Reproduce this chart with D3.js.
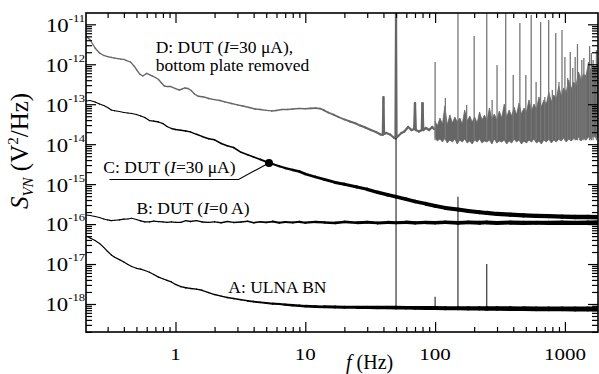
<!DOCTYPE html>
<html>
<head>
<meta charset="utf-8">
<script src="https://cdn.jsdelivr.net/npm/d3@7/dist/d3.min.js"></script>
<style>
html,body{margin:0;padding:0;background:#fff;}
svg{display:block;}
text{font-family:"Liberation Serif","Times New Roman",Times,serif;fill:#000;}
</style>
</head>
<body>
<svg id="chart" width="599" height="374"></svg>
<script>
// ---------- DATA ----------
// common frequency grid (Hz) for traces A, B, C
const freq = [0.205,0.22,0.24,0.26,0.28,0.30,0.32,0.34,0.37,0.40,0.43,0.46,0.50,0.54,0.58,0.63,0.68,0.74,0.80,0.86,
  0.93,1.0,1.1,1.2,1.3,1.45,1.6,1.8,2.0,2.25,2.5,2.8,3.2,3.6,4.0,4.5,5.0,5.6,6.3,7.0,
  8.0,9.0,10,12,14,17,20,25,30,36,43,50,60,70,85,100,120,150,180,220,
  250,300,380,480,600,750,950,1200,1500,1800];

// C: DUT (I=30 uA)
const seriesC = [1.20e-13,1.24e-13,1.14e-13,1.01e-13,9.29e-14,8.28e-14,7.17e-14,6.85e-14,6.57e-14,6.21e-14,
  6.03e-14,5.86e-14,5.53e-14,5.07e-14,4.65e-14,3.91e-14,3.80e-14,3.59e-14,3.29e-14,2.77e-14,
  2.47e-14,2.33e-14,2.23e-14,2.14e-14,2.04e-14,1.77e-14,1.56e-14,1.37e-14,1.29e-14,1.04e-14,
  9.11e-15,8.26e-15,6.26e-15,5.42e-15,4.78e-15,4.14e-15,3.62e-15,3.19e-15,2.80e-15,2.53e-15,
  2.26e-15,2.07e-15,1.79e-15,1.51e-15,1.31e-15,1.10e-15,9.97e-16,8.48e-16,7.43e-16,6.25e-16,
  5.41e-16,4.85e-16,4.18e-16,3.68e-16,3.22e-16,2.84e-16,2.53e-16,2.32e-16,2.13e-16,1.97e-16,
  1.90e-16,1.79e-16,1.72e-16,1.66e-16,1.61e-16,1.58e-16,1.54e-16,1.51e-16,1.50e-16,1.48e-16];

// B: DUT (I=0 A)
const seriesB = [1.69e-16,1.64e-16,1.55e-16,1.46e-16,1.34e-16,1.27e-16,1.22e-16,1.25e-16,1.28e-16,1.33e-16,
  1.34e-16,1.40e-16,1.30e-16,1.20e-16,1.13e-16,1.13e-16,1.18e-16,1.16e-16,1.13e-16,1.11e-16,
  1.14e-16,1.10e-16,1.11e-16,1.22e-16,1.16e-16,1.22e-16,1.13e-16,1.10e-16,1.14e-16,1.08e-16,
  1.16e-16,1.10e-16,1.13e-16,1.18e-16,1.08e-16,1.14e-16,1.10e-16,1.16e-16,1.08e-16,1.13e-16,
  1.10e-16,1.14e-16,1.08e-16,1.13e-16,1.10e-16,1.07e-16,1.13e-16,1.08e-16,1.11e-16,1.07e-16,
  1.10e-16,1.08e-16,1.11e-16,1.07e-16,1.10e-16,1.08e-16,1.11e-16,1.07e-16,1.10e-16,1.08e-16,
  1.10e-16,1.07e-16,1.09e-16,1.07e-16,1.08e-16,1.07e-16,1.08e-16,1.07e-16,1.08e-16,1.10e-16];

// A: ULNA BN
const seriesA = [5.04e-17,4.49e-17,3.89e-17,3.27e-17,2.60e-17,2.06e-17,1.69e-17,1.48e-17,1.29e-17,1.13e-17,
  9.75e-18,8.69e-18,7.83e-18,7.44e-18,6.90e-18,6.22e-18,5.48e-18,4.69e-18,4.28e-18,3.92e-18,
  3.56e-18,3.08e-18,2.71e-18,2.55e-18,2.45e-18,2.35e-18,2.20e-18,1.93e-18,1.72e-18,1.57e-18,
  1.45e-18,1.37e-18,1.28e-18,1.20e-18,1.14e-18,1.10e-18,1.06e-18,1.02e-18,1.00e-18,9.62e-19,
  9.29e-19,9.03e-19,8.82e-19,8.62e-19,8.52e-19,8.42e-19,8.32e-19,8.28e-19,8.25e-19,8.18e-19,
  8.15e-19,8.10e-19,8.05e-19,8.00e-19,7.95e-19,7.90e-19,7.85e-19,7.81e-19,7.78e-19,7.75e-19,
  7.72e-19,7.70e-19,7.66e-19,7.62e-19,7.58e-19,7.55e-19,7.52e-19,7.50e-19,7.48e-19,7.45e-19];

// mains-line spikes seen as thin black lines (A trace)
const aSpikeF    = [50, 100, 150, 250];
const aSpikeBase = [8.10e-19, 7.90e-19, 7.81e-19, 7.72e-19];
const aSpikePeak = [1.43e-14, 1.52e-18, 4.8e-16, 1.0e-17];

// D: DUT (I=30 uA), bottom plate removed — low-frequency part
const dFreq = [0.205,0.22,0.24,0.26,0.28,0.30,0.32,0.34,0.36,0.38,0.40,0.42,0.45,0.48,0.50,0.53,0.56,0.60,0.63,0.66,
  0.70,0.74,0.78,0.82,0.87,0.92,1.0,1.07,1.12,1.18,1.25,1.32,1.4,1.5,1.65,1.8,2.0,2.2,2.4,2.7,
  3.0,3.3,3.7,4.1,4.5,5.0,5.5,6.0,6.6,7.3,8.0,9.0,10,11,12,13,14,15,16.5,18,
  20,22,24,26.5,29,32,35,38,39.5,40,40.5,42,45,48,49.5,50,50.5,52,55,58,
  62,66,69,70,71,75,79,80,81,85,90,95,98];
const dPsd = [5.1e-12,4.05e-12,2.55e-12,1.91e-12,1.66e-12,1.56e-12,1.48e-12,1.43e-12,1.39e-12,1.35e-12,
  1.32e-12,1.24e-12,1.14e-12,9.0e-13,7.4e-13,5.7e-13,5.1e-13,5.9e-13,5.5e-13,5.1e-13,
  4.67e-13,4.16e-13,3.40e-13,2.86e-13,2.77e-13,2.77e-13,2.47e-13,2.27e-13,2.40e-13,2.55e-13,
  2.47e-13,2.20e-13,1.80e-13,1.58e-13,1.52e-13,1.39e-13,1.30e-13,1.24e-13,1.14e-13,1.04e-13,
  9.6e-14,9.0e-14,8.3e-14,7.6e-14,7.4e-14,7.0e-14,6.8e-14,7.0e-14,7.4e-14,7.4e-14,
  7.6e-14,7.8e-14,7.7e-14,7.9e-14,8.0e-14,7.8e-14,7.0e-14,6.2e-14,5.5e-14,4.79e-14,
  4.15e-14,3.7e-14,3.39e-14,2.93e-14,2.61e-14,2.26e-14,2.02e-14,1.75e-14,1.70e-14,1.52e-13,
  1.80e-14,1.91e-14,1.75e-14,1.47e-14,1.39e-14,1.9e-11,1.47e-14,1.60e-14,1.91e-14,2.07e-14,
  2.69e-14,2.26e-14,2.40e-14,1.07e-13,2.26e-14,2.07e-14,2.26e-14,1.07e-13,2.26e-14,2.54e-14,
  2.26e-14,2.69e-14,2.4e-14];

// D — dense high-frequency band (lower / upper envelope)
const dBandF = [100,104,109,114,119,124,130,136,142,148,155,162,169,177,185,193,202,211,220,230,
  240,251,262,274,286,299,312,326,341,356,372,389,406,424,443,463,484,506,529,553,
  578,604,631,659,689,720,752,786,821,858,897,937,979,1023,1069,1117,1167,1220,1275,1332,
  1392,1455,1520,1588,1660,1735,1800];
const dBandHi = [3.80e-14,2.85e-14,4.52e-14,3.20e-14,9.03e-14,3.02e-14,5.37e-14,3.39e-14,4.79e-14,3.59e-14,
  4.52e-14,3.20e-14,7.17e-14,3.80e-14,5.07e-14,3.59e-14,4.79e-14,3.39e-14,6.39e-14,4.03e-14,
  5.37e-14,3.80e-14,8.04e-14,4.27e-14,5.69e-14,4.03e-14,6.77e-14,4.52e-14,1.01e-13,4.79e-14,
  7.17e-14,5.07e-14,8.52e-14,5.37e-14,1.07e-13,5.69e-14,8.04e-14,6.39e-14,1.28e-13,6.77e-14,
  1.01e-13,7.59e-14,1.52e-13,8.52e-14,1.28e-13,1.01e-13,2.02e-13,1.14e-13,1.70e-13,1.35e-13,
  2.86e-13,1.61e-13,2.55e-13,2.02e-13,4.04e-13,2.40e-13,3.60e-13,3.03e-13,6.40e-13,4.04e-13,
  5.71e-13,5.08e-13,1.139e-12,6.40e-13,9.05e-13,8.06e-13,7.19e-13];
const dBandLo = [1.51e-14,1.20e-14,1.35e-14,1.13e-14,1.43e-14,1.07e-14,1.27e-14,1.13e-14,1.35e-14,1.01e-14,
  1.27e-14,1.13e-14,1.35e-14,1.07e-14,1.20e-14,1.01e-14,1.27e-14,1.13e-14,1.35e-14,1.07e-14,
  1.20e-14,1.13e-14,1.27e-14,1.01e-14,1.35e-14,1.07e-14,1.20e-14,1.13e-14,1.27e-14,1.01e-14,
  1.20e-14,1.07e-14,1.35e-14,1.13e-14,1.27e-14,1.01e-14,1.20e-14,1.07e-14,1.27e-14,1.13e-14,
  1.35e-14,1.07e-14,1.20e-14,1.01e-14,1.27e-14,1.13e-14,1.35e-14,1.07e-14,1.27e-14,1.13e-14,
  1.35e-14,1.20e-14,1.43e-14,1.13e-14,1.35e-14,1.20e-14,1.43e-14,1.27e-14,1.51e-14,1.20e-14,
  1.43e-14,1.27e-14,1.51e-14,1.35e-14,1.60e-14,1.43e-14,1.51e-14];

// D — spectral lines above the band
const dSpikeF = [100,120,150,175,200,250,275,300,350,400,450,500,550,600,650,700,750,800,850,900,
  950,1000,1050,1100,1150,1200,1250,1300,1350,1400,1450,1550,1600,1650,1750];
const dSpikePeak = [1.14e-12,1.43e-13,1.9e-11,9.6e-14,5.1e-12,1.9e-11,1.28e-13,9.6e-13,1.9e-11,5.4e-13,
  1.08e-11,5.4e-13,1.71e-11,3.6e-13,1.14e-11,1.52e-13,1.28e-11,2.27e-13,6.05e-12,3.6e-13,
  7.19e-12,1.52e-12,4.53e-13,2.03e-12,8.06e-13,1.52e-12,3.21e-12,5.39e-13,1.28e-12,1.43e-12,
  5.39e-13,2.86e-12,1.91e-12,1.28e-12,2.27e-12];
const dSpikeBase = 1.25e-14;

// marker on trace C used by the C label
const cMarkerF = 5.25, cMarkerS = 3.4e-15;

// axis ticks and labels
const xMajor = [1, 10, 100, 1000];
const xTickLabels = ["1", "10", "100", "1000"];
const yExponents = [-11, -12, -13, -14, -15, -16, -17, -18];

// ---------- DRAWING ----------
const W = 599, H = 374;
const L = 86, R = 598, T = 13, B = 332;
const svg = d3.select("#chart");
svg.append("rect").attr("width", W).attr("height", H).attr("fill", "#fff");

const x = d3.scaleLog().domain([0.2044, 1799]).range([L, R]);
const y = d3.scaleLog().domain([1.99e-19, 1.92e-11]).range([B, T]);

svg.append("defs").append("clipPath").attr("id", "clip")
  .append("rect").attr("x", L).attr("y", T).attr("width", R - L).attr("height", B - T);
const plot = svg.append("g").attr("clip-path", "url(#clip)");

function varLine(g, fs, ss, color, wScale) {
  for (let i = 0; i < fs.length - 1; i++) {
    g.append("line")
      .attr("x1", x(fs[i])).attr("y1", y(ss[i]))
      .attr("x2", x(fs[i + 1])).attr("y2", y(ss[i + 1]))
      .attr("stroke", color)
      .attr("stroke-width", wScale(Math.sqrt(fs[i] * fs[i + 1])))
      .attr("stroke-linecap", "round");
  }
}

const grey = "#666";
// D band
const area = d3.area()
  .x((d, i) => x(dBandF[i]))
  .y0((d, i) => y(dBandLo[i]))
  .y1((d, i) => y(dBandHi[i]));
plot.append("path").datum(dBandF).attr("d", area)
  .attr("fill", grey).attr("stroke", grey).attr("stroke-width", 0.8);
// D low-frequency trace
const wD = d3.scaleLog().domain([0.2, 5, 30, 100]).range([1.3, 1.4, 2.0, 2.4]).clamp(true);
varLine(plot, dFreq, dPsd, grey, wD);
// D spectral lines
dSpikeF.forEach((f, i) => {
  plot.append("line").attr("x1", x(f)).attr("x2", x(f))
    .attr("y1", y(dSpikeBase)).attr("y2", y(dSpikePeak[i]))
    .attr("stroke", "#777").attr("stroke-width", 1.3);
});

// A spikes (thin black)
aSpikeF.forEach((f, i) => {
  plot.append("line").attr("x1", x(f)).attr("x2", x(f))
    .attr("y1", y(aSpikeBase[i])).attr("y2", y(aSpikePeak[i]))
    .attr("stroke", "#222").attr("stroke-width", 1.1);
});

const wC = d3.scaleLog().domain([0.2, 3, 10, 50, 300, 1800]).range([1.1, 1.5, 2.6, 3.6, 4.2, 4.5]).clamp(true);
const wB = d3.scaleLog().domain([0.2, 3, 10, 50, 300, 1800]).range([1.1, 1.4, 2.2, 3.2, 4.0, 4.5]).clamp(true);
const wA = d3.scaleLog().domain([0.2, 3, 10, 50, 300, 1800]).range([1.1, 1.5, 2.6, 3.6, 4.5, 5.0]).clamp(true);
varLine(plot, freq, seriesC, "#000", wC);
varLine(plot, freq, seriesB, "#000", wB);
varLine(plot, freq, seriesA, "#000", wA);

// ---------- annotations ----------
// each label: anchor in data coordinates, font size, horizontal stretch
const notes = [
  { f: 0.704, s: 1.91e-12, size: 16.5, sx: 1.06, parts: [["D: DUT (", 0], ["I", 1], ["=30 \u03bcA),", 0]] },
  { f: 0.704, s: 6.6e-13,  size: 16.5, sx: 1.06, parts: [["bottom plate removed", 0]] },
  { f: 0.278, s: 1.87e-15, size: 17.5, sx: 1, parts: [["C: DUT (", 0], ["I", 1], ["=30 \u03bcA)", 0]] },
  { f: 0.5,   s: 1.74e-16, size: 17.5, sx: 1, parts: [["B: DUT (", 0], ["I", 1], ["=0 A)", 0]] },
  { f: 2.55,  s: 1.85e-18, size: 17.5, sx: 1, parts: [["A: ULNA BN", 0]] }
];
notes.forEach(n => {
  const t = svg.append("text")
    .attr("transform", `translate(${x(n.f)},${y(n.s)}) scale(${n.sx},1)`)
    .attr("font-size", n.size);
  n.parts.forEach(p => t.append("tspan").attr("font-style", p[1] ? "italic" : "normal").text(p[0]));
});
const leader = { f0: 0.31, f1: 3.06, s: 1.31e-15 };
svg.append("path")
  .attr("d", d3.line()([[x(leader.f0), y(leader.s)], [x(leader.f1), y(leader.s)], [x(cMarkerF), y(cMarkerS)]]))
  .attr("fill", "none").attr("stroke", "#000").attr("stroke-width", 1.1);
svg.append("circle").attr("cx", x(cMarkerF)).attr("cy", y(cMarkerS)).attr("r", 4).attr("fill", "#000");

// ---------- axes ----------
const xMinor = [];
[0.1, 1, 10, 100, 1000].forEach(d => { for (let k = 2; k <= 9; k++) { const v = d * k; if (v > 0.2044 && v < 1799) xMinor.push(v); } });
const yMajor = yExponents.map(e => Math.pow(10, e));
const yMinor = [];
for (let e = -19; e <= -11; e++) for (let k = 2; k <= 9; k++) { const v = k * Math.pow(10, e); if (v > 1.99e-19 && v < 1.92e-11) yMinor.push(v); }

function ticks(axisFn, scale, vals, size, tr) {
  const g = svg.append("g").attr("transform", tr)
    .call(axisFn(scale).tickValues(vals).tickSize(size).tickFormat(""));
  g.select(".domain").remove();
  g.selectAll(".tick line").attr("stroke", "#000").attr("stroke-width", 1.2);
}
ticks(d3.axisBottom, x, xMajor, -10, `translate(0,${B})`);
ticks(d3.axisBottom, x, xMinor, -5, `translate(0,${B})`);
ticks(d3.axisTop, x, xMajor, -10, `translate(0,${T})`);
ticks(d3.axisTop, x, xMinor, -5, `translate(0,${T})`);
ticks(d3.axisLeft, y, yMajor, -10, `translate(${L},0)`);
ticks(d3.axisLeft, y, yMinor, -6, `translate(${L},0)`);
ticks(d3.axisRight, y, yMajor, -10, `translate(${R},0)`);
ticks(d3.axisRight, y, yMinor, -6, `translate(${R},0)`);

svg.append("rect").attr("x", L).attr("y", T).attr("width", R - L).attr("height", B - T)
  .attr("fill", "none").attr("stroke", "#000").attr("stroke-width", 1.6);

// tick labels
xMajor.forEach((v, i) => {
  svg.append("text").attr("transform", `translate(${x(v)},360) scale(1.2,1)`)
    .attr("text-anchor", "middle").attr("font-size", 17.5).text(xTickLabels[i]);
});
yExponents.forEach(e => {
  const yy = y(Math.pow(10, e));
  const t = svg.append("text").attr("transform", `translate(85,${yy + 7.4}) scale(1.2,1)`).attr("text-anchor", "end");
  t.append("tspan").attr("font-size", 19).text("10");
  t.append("tspan").attr("font-size", 10.5).attr("dy", -10).text(String(e));
});

// axis titles
const xt = svg.append("text").attr("x", 346).attr("y", 369).attr("font-size", 20);
xt.append("tspan").attr("font-style", "italic").text("f");
xt.append("tspan").text(" (Hz)");

const yt = svg.append("text").attr("transform", "translate(28,151) rotate(-90)")
  .attr("text-anchor", "middle").attr("font-size", 25);
yt.append("tspan").attr("font-style", "italic").text("S");
yt.append("tspan").attr("font-size", 15).attr("font-style", "italic").attr("dy", 5).text("VN");
yt.append("tspan").attr("dy", -5).text(" (V");
yt.append("tspan").attr("font-size", 15).attr("dy", -10).text("2");
yt.append("tspan").attr("dy", 10).text("/Hz)");
</script>
</body>
</html>
